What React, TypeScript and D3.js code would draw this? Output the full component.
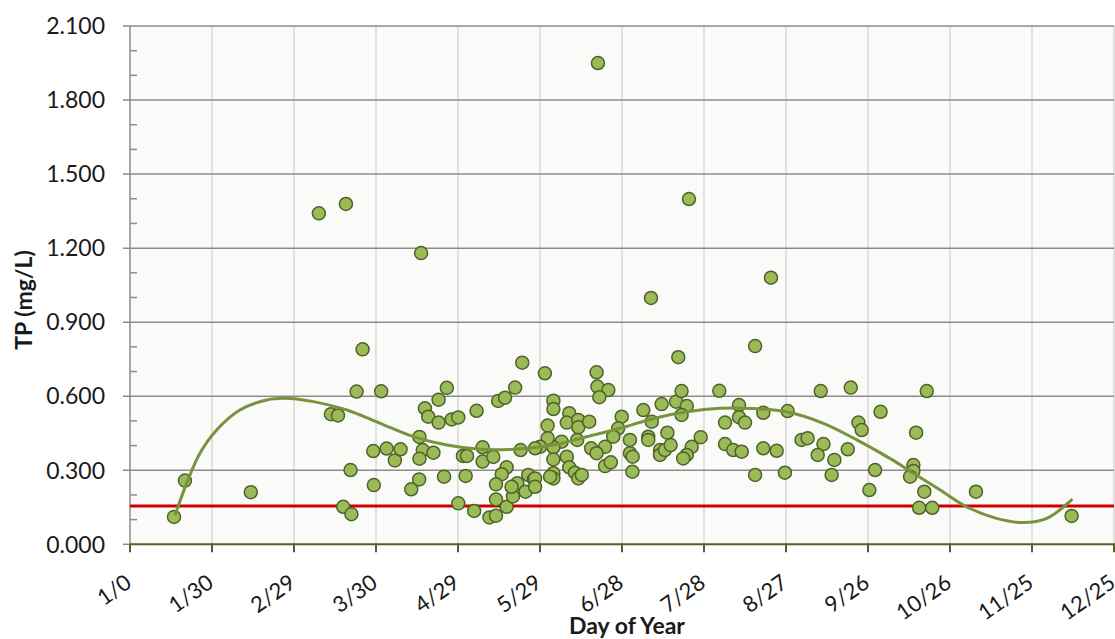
import React from "react";
import * as d3 from "d3";

// Scatter data: day of year and TP (mg/L)
const days: number[] = [
  16.1, 20.1, 44.2, 69.1, 79.0, 73.5, 76.1, 80.7, 78.0, 81.0,
  82.9, 85.1, 89.0, 89.2, 91.9, 93.9, 96.9, 99.0, 102.9, 106.5,
  143.5, 115.9, 112.9, 107.9, 109.1, 112.9, 117.7, 120.1, 126.8, 134.7,
  137.2, 140.9, 105.9, 107.1, 111.0, 105.9, 105.8, 114.9, 121.8, 123.3,
  122.8, 120.1, 125.9, 129.0, 129.0, 132.9, 142.9, 137.8, 136.0, 133.9,
  133.9, 137.8, 131.5, 133.9, 140.1, 141.7, 139.6, 144.7, 145.7, 147.8,
  151.8, 154.9, 154.9, 152.8, 160.7, 159.8, 164.0, 164.0, 168.0, 170.7,
  171.0, 175.0, 171.7, 179.9, 178.6, 176.8, 187.8, 189.6, 182.9, 182.9,
  183.9, 183.8, 173.8, 173.8, 175.9, 168.7, 170.7, 163.6, 157.9, 159.8,
  160.7, 162.8, 164.0, 154.9, 152.8, 150.0, 148.2, 154.9, 154.9, 154.9,
  153.7, 148.2, 148.2, 165.3, 200.6, 228.7, 194.5, 199.8, 201.8, 203.7,
  201.8, 190.9, 189.6, 196.6, 193.9, 193.9, 195.7, 197.8, 205.5, 203.7,
  202.4, 208.8, 215.6, 222.8, 222.8, 225.0, 217.7, 217.7, 220.7, 223.8,
  231.7, 231.7, 228.7, 171.2, 190.6, 204.5, 234.5, 240.6, 236.6, 239.6,
  252.7, 263.7, 245.7, 247.9, 253.7, 251.6, 257.7, 262.6, 256.7, 266.5,
  267.7, 274.6, 272.6, 270.5, 287.6, 291.5, 286.6, 286.6, 285.4, 290.6,
  288.7, 293.5, 309.5, 344.5,
];
const tpValues: number[] = [
  0.111, 0.258, 0.211, 1.341, 1.379, 0.527, 0.522, 0.301, 0.152, 0.122,
  0.619, 0.790, 0.378, 0.240, 0.620, 0.388, 0.340, 0.385, 0.223, 1.180,
  0.736, 0.634, 0.586, 0.551, 0.517, 0.493, 0.506, 0.514, 0.541, 0.581,
  0.594, 0.635, 0.435, 0.382, 0.371, 0.347, 0.263, 0.274, 0.358, 0.358,
  0.277, 0.166, 0.135, 0.393, 0.335, 0.354, 0.382, 0.312, 0.284, 0.243,
  0.182, 0.152, 0.109, 0.116, 0.194, 0.247, 0.233, 0.213, 0.281, 0.263,
  0.693, 0.582, 0.548, 0.481, 0.531, 0.493, 0.504, 0.474, 0.497, 0.697,
  0.639, 0.625, 0.596, 0.517, 0.470, 0.436, 0.544, 0.436, 0.423, 0.369,
  0.355, 0.294, 0.395, 0.317, 0.332, 0.389, 0.369, 0.423, 0.416, 0.355,
  0.312, 0.290, 0.267, 0.393, 0.430, 0.395, 0.389, 0.344, 0.288, 0.267,
  0.274, 0.267, 0.233, 0.281, 0.758, 0.803, 0.568, 0.578, 0.621, 0.560,
  0.524, 0.497, 0.423, 0.452, 0.382, 0.362, 0.382, 0.402, 0.395, 0.362,
  0.348, 0.434, 0.622, 0.564, 0.515, 0.493, 0.493, 0.406, 0.382, 0.375,
  0.533, 0.389, 0.281, 1.950, 0.998, 1.399, 1.080, 0.540, 0.379, 0.290,
  0.621, 0.635, 0.423, 0.430, 0.406, 0.362, 0.342, 0.385, 0.281, 0.493,
  0.463, 0.537, 0.301, 0.220, 0.452, 0.621, 0.321, 0.297, 0.274, 0.213,
  0.148, 0.148, 0.213, 0.115,
];

// Polynomial trendline
const trendDays: number[] = [
  16.5, 20.7, 25.6, 31.7, 40.2, 50, 58.5, 67.1, 79.3, 91.5, 103.7, 115.9,
  128, 140.2, 154.9, 167.1, 179.3, 191.5, 203.7, 215.9, 228, 240.2, 253.7,
  265.9, 278, 286.6, 296.4, 306, 317, 326.8, 335.4, 344.8,
];
const trendValues: number[] = [
  0.118, 0.247, 0.369, 0.463, 0.544, 0.585, 0.591, 0.578, 0.544, 0.49, 0.436,
  0.402, 0.385, 0.385, 0.402, 0.436, 0.47, 0.51, 0.537, 0.551, 0.55, 0.537,
  0.49, 0.423, 0.348, 0.288, 0.22, 0.152, 0.105, 0.088, 0.105, 0.183,
];

// Reference (standard) level
const referenceLevel = 0.155;

const xTickDays: number[] = [0, 30, 60, 90, 120, 150, 180, 210, 240, 270, 300, 330, 360];
const xTickLabels: string[] = [
  "1/0", "1/30", "2/29", "3/30", "4/29", "5/29", "6/28", "7/28", "8/27",
  "9/26", "10/26", "11/25", "12/25",
];
const yTicks: number[] = [0, 0.3, 0.6, 0.9, 1.2, 1.5, 1.8, 2.1];
const yMinorTicks: number[] = [0.1, 0.2, 0.4, 0.5, 0.7, 0.8, 1.0, 1.1, 1.3, 1.4, 1.6, 1.7, 1.9, 2.0];

const W = 1115;
const H = 639;
const left = 130;
const right = 1114;
const top = 26;
const bottom = 544.3;

export default function App() {
  const x = d3.scaleLinear().domain([0, 360]).range([left, right]);
  const y = d3.scaleLinear().domain([0, 2.1]).range([bottom, top]);
  const fmt = d3.format(".3f");
  const font = "Lato, 'Open Sans', sans-serif";

  const trendPts: [number, number][] = trendDays.map((d, i) => [d, trendValues[i]]);
  const trendPath =
    d3
      .line<[number, number]>()
      .x((d) => x(d[0]))
      .y((d) => y(d[1]))
      .curve(d3.curveCatmullRom.alpha(0.5))(trendPts) || "";

  return (
    <svg
      width={W}
      height={H}
      style={{ position: "absolute", left: 0, top: 0, background: "#ffffff" }}
    >
      <rect x={left} y={top} width={right - left} height={bottom - top} fill="#fafaf8" />
      {/* vertical gridlines */}
      {xTickDays.slice(1).map((d) => (
        <line key={"vg" + d} x1={x(d)} x2={x(d)} y1={top} y2={bottom} stroke="#d9d9d9" strokeWidth={1.5} />
      ))}
      {/* horizontal gridlines + major ticks */}
      {yTicks.slice(1).map((v) => (
        <line key={"hg" + v} x1={left - 7} x2={right} y1={y(v)} y2={y(v)} stroke="#8c8c8c" strokeWidth={1.5} />
      ))}
      {yMinorTicks.map((v) => (
        <line key={"mt" + v} x1={left} x2={left + 7} y1={y(v)} y2={y(v)} stroke="#8c8c8c" strokeWidth={1.5} />
      ))}
      <line x1={left} x2={left} y1={top} y2={bottom} stroke="#8c8c8c" strokeWidth={1.5} />
      <line x1={left - 7} x2={left} y1={y(0)} y2={y(0)} stroke="#8c8c8c" strokeWidth={1.5} />
      {/* y tick labels */}
      {yTicks.map((v) => (
        <text key={"yl" + v} x={105} y={y(v)} dy="0.36em" textAnchor="end" fontFamily={font} fontSize={23} fill="#1a1a1a">
          {fmt(v)}
        </text>
      ))}
      {/* reference line */}
      <line x1={left} x2={right} y1={y(referenceLevel)} y2={y(referenceLevel)} stroke="#d00000" strokeWidth={3} />
      {/* points */}
      {days.map((d, i) => (
        <circle key={"p" + i} cx={x(d)} cy={y(tpValues[i])} r={6.5} fill="#9bbb59" stroke="#4f6228" strokeWidth={1.5} />
      ))}
      {/* trendline */}
      <path d={trendPath} fill="none" stroke="#77933c" strokeWidth={3} />
      {/* x axis */}
      <line x1={left} x2={W} y1={bottom} y2={bottom} stroke="#4f6228" strokeWidth={2} />
      {xTickDays.map((d) => (
        <line key={"xt" + d} x1={x(d)} x2={x(d)} y1={bottom} y2={bottom + 8} stroke="#4f6228" strokeWidth={2} />
      ))}
      {xTickDays.map((d, i) => (
        <text
          key={"xl" + d}
          transform={`translate(${x(d) + 3},586) rotate(-35)`}
          textAnchor="end"
          fontFamily={font}
          fontSize={22}
          fill="#1a1a1a"
        >
          {xTickLabels[i]}
        </text>
      ))}
      {/* axis titles */}
      <text x={627} y={634} textAnchor="middle" fontFamily={font} fontSize={23} fontWeight="bold" fill="#1a1a1a">
        Day of Year
      </text>
      <text
        transform="translate(32,300) rotate(-90)"
        textAnchor="middle"
        fontFamily={font}
        fontSize={23}
        fontWeight="bold"
        fill="#1a1a1a"
      >
        TP (mg/L)
      </text>
    </svg>
  );
}
